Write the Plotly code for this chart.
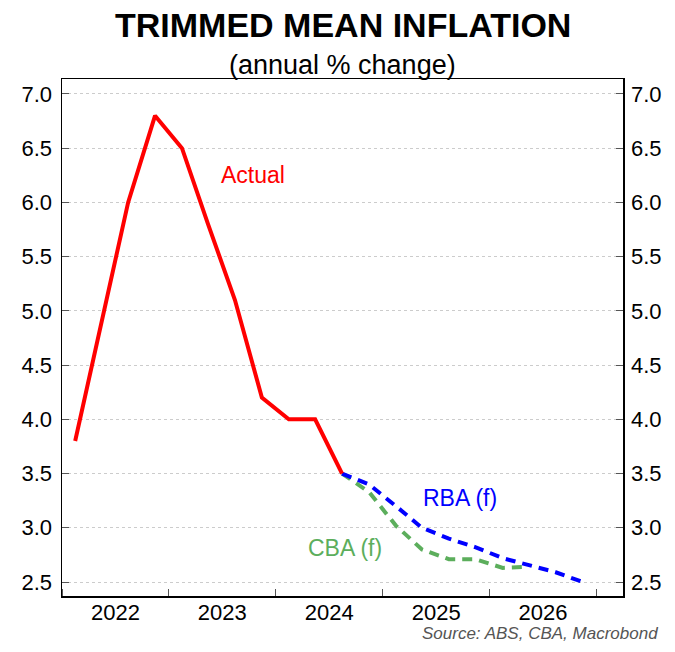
import plotly.graph_objects as go

# ---- data (quarterly, plotted at mid-quarter) ----
actual_dates = ["2022-02-15", "2022-05-15", "2022-08-15", "2022-11-15",
                "2023-02-15", "2023-05-15", "2023-08-15", "2023-11-15",
                "2024-02-15", "2024-05-15", "2024-08-15"]
actual_vals = [3.8, 4.9, 6.0, 6.8, 6.5, 5.8, 5.1, 4.2, 4.0, 4.0, 3.5]

rba_dates = ["2024-08-15", "2024-11-15", "2025-02-15", "2025-05-15", "2025-08-15",
             "2025-11-15", "2026-02-15", "2026-05-15", "2026-08-15", "2026-11-15"]
rba_vals = [3.5, 3.4, 3.2, 3.0, 2.9, 2.82, 2.72, 2.66, 2.59, 2.5]

cba_dates = ["2024-08-15", "2024-11-15", "2025-02-15", "2025-05-15",
             "2025-08-15", "2025-11-15", "2026-02-15", "2026-05-15"]
cba_vals = [3.5, 3.33, 3.02, 2.8, 2.71, 2.71, 2.63, 2.64]

y_ticks = [2.5, 3.0, 3.5, 4.0, 4.5, 5.0, 5.5, 6.0, 6.5, 7.0]

RED = "#ff0000"
BLUE = "#0000ff"
GREEN = "#5cae5c"
FONT = "Liberation Sans, Arial, sans-serif"

fig = go.Figure()
fig.add_trace(go.Scatter(x=cba_dates, y=cba_vals, mode="lines",
                         line=dict(color=GREEN, width=4, dash="10px,7px"),
                         showlegend=False, hoverinfo="skip"))
fig.add_trace(go.Scatter(x=rba_dates, y=rba_vals, mode="lines",
                         line=dict(color=BLUE, width=4, dash="10px,7px"),
                         showlegend=False, hoverinfo="skip"))
fig.add_trace(go.Scatter(x=actual_dates, y=actual_vals, mode="lines",
                         line=dict(color=RED, width=4),
                         showlegend=False, hoverinfo="skip"))

yr = [2.371, 7.138]
common_y = dict(range=yr, tickvals=y_ticks, ticktext=[f"{v:.1f}" for v in y_ticks],
                ticks="inside", ticklen=7, tickcolor="#555555",
                tickfont=dict(family=FONT, size=22, color="#000000"),
                showline=True, linecolor="#000000", linewidth=1.5,
                zeroline=False, fixedrange=True)

fig.update_layout(
    width=675, height=652,
    margin=dict(l=62, r=52, t=79, b=56),
    paper_bgcolor="white", plot_bgcolor="white",
    font=dict(family=FONT, color="#000000"),
    xaxis=dict(type="date", range=["2022-01-01", "2027-04-02"],
               tick0="2022-01-01", dtick="M12", tickformat="%Y",
               ticklabelmode="period", ticklabelstandoff=-4,
               ticks="inside", ticklen=7, tickcolor="#555555",
               tickfont=dict(family=FONT, size=22, color="#000000"),
               showline=True, linecolor="#000000", linewidth=1.5, mirror=True,
               showgrid=False, zeroline=False, fixedrange=True),
    yaxis=dict(**common_y, side="left", mirror=True, ticklabelstandoff=4,
               showgrid=True, gridcolor="#cccccc", gridwidth=1, griddash="dot"),
    yaxis2=dict(**common_y, side="right", overlaying="y", matches="y",
                ticklabelstandoff=2, showgrid=False),
    annotations=[
        dict(text="<b>TRIMMED MEAN INFLATION</b>", xref="paper", yref="paper",
             x=0.5, y=1.1044, xanchor="center", yanchor="middle", showarrow=False,
             font=dict(family=FONT, size=34, color="#000000")),
        dict(text="(annual % change)", xref="paper", yref="paper",
             x=0.5, y=1.027, xanchor="center", yanchor="middle", showarrow=False,
             font=dict(family=FONT, size=27, color="#000000")),
        dict(text="<i>Source: ABS, CBA, Macrobond</i>", xref="paper", yref="paper",
             x=1.066, y=-0.0735, xanchor="right", yanchor="middle", showarrow=False,
             font=dict(family=FONT, size=17, color="#555555")),
        dict(text="Actual", x="2023-10-15", y=6.25, xref="x", yref="y",
             showarrow=False, font=dict(family=FONT, size=23, color=RED)),
        dict(text="RBA (f)", x="2025-09-23", y=3.275, xref="x", yref="y",
             showarrow=False, font=dict(family=FONT, size=23, color=BLUE)),
        dict(text="CBA (f)", x="2024-08-25", y=2.81, xref="x", yref="y",
             showarrow=False, font=dict(family=FONT, size=23, color=GREEN)),
    ],
)
# invisible trace so the right-hand axis is rendered
fig.add_trace(go.Scatter(x=[actual_dates[0]], y=[actual_vals[0]], yaxis="y2",
                         mode="markers", marker=dict(opacity=0), showlegend=False,
                         hoverinfo="skip"))

# remove the browser's default page margin so the figure sits at (0, 0)
fig.write_html("out.html",
               config={"displayModeBar": False, "staticPlot": True},
               post_script="document.body.style.margin='0';document.body.style.overflow='hidden';")
